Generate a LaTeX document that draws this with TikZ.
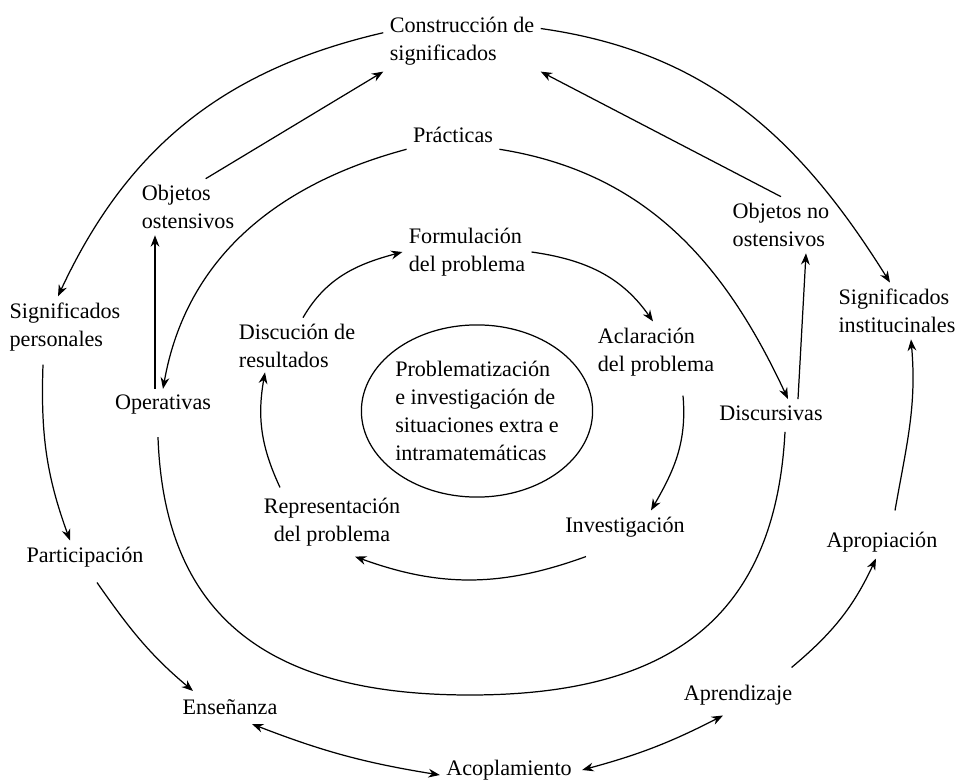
\documentclass[tikz,border=0pt]{standalone}
\usepackage{fontspec}
\setmainfont{Liberation Serif}
\usetikzlibrary{calc, positioning, shapes.geometric, arrows.meta}

\begin{document}
\begin{tikzpicture}[>={Stealth[length=6.5pt,width=5pt]}, x=0.02cm, y=0.02cm, line width=0.7pt, font=\fontsize{12.6}{16}\selectfont]
\useasboundingbox (0,0) rectangle (958,782);
\node[align=left](cons) at (462,741){Construcción de\\significados};
\node(prac) at (453,647){Prácticas};
\node[align=left](objos) at (188,575){Objetos\\ostensivos};
\node[align=left](objnos) at (781,557){Objetos no\\ostensivos};
\node[align=left](form) at (467,530){Formulación\\del problema};
\node[align=left](sigp) at (65,455){Significados\\personales};
\node[align=left](disc) at (297,436){Discución de\\resultados};
\node[align=left](acla) at (656,430){Aclaración\\del problema};
\node[align=left](sigi) at (897,471){Significados\\institucinales};
\node(ope) at (163,377){Operativas};
\node(discu) at (771,369){Discursivas};
\node[draw, ellipse, inner sep=0pt, minimum width=126pt, minimum height=98pt, align=left](prob) at (477,371){Problematización\\e investigación de\\situaciones extra e\\intramatemáticas};
\node[align=center](repr) at (332,260){Representación\\del problema};
\node(inv) at (625,255){Investigación};
\node(part) at (85,225){Participación};
\node(apro) at (882,240){Apropiación};
\node(ense) at (230,75){Enseñanza};
\node(apre) at (738,87){Aprendizaje};
\node(acop) at (509,12){Acoplamiento};

\draw[->](cons.174) to[out=193, in=65] ($(sigp.north)+(-7,0)$);
\draw[->](cons.9) to[out=-8, in=122] ($(sigi.north)+(-7,0)$);
\draw[->](objos.58)--(cons.south west);
\draw[->](objnos.north)--(cons.south east);
\draw[->](prac.south west) to[out=195, in=80] (ope.north);
\draw[->](prac.south east) to[out=-9, in=115] ($(discu.north)+(17,0)$);
\coordinate (opetop) at ($(ope.north)+(-8,0)$);
\draw[->](opetop)--(opetop |- objos.south);
\draw[->]($(discu.north)+(27,0)$)--($(objnos.south)+(25,0)$);
\coordinate (ringbot) at (470,87);
\draw($(ope.south)+(-5,-16)$) to[out=-88, in=180, looseness=1.2] (ringbot) to[out=0, in=-93, looseness=1.2] ($(discu.south)+(14,-5)$);

\draw[->]($(sigp.south)+(-22,-7)$) to[out=-92, in=110] ($(part.north)+(-15,0)$);
\draw[->]($(part.south)+(12,-9)$) to[out=-55, in=140] ($(ense.north)+(-37,2)$);
\draw[<->]($(ense.south)+(22,-3)$) to[bend right=6] ($(acop.west)+(0,-5)$);
\draw[<->]($(acop.east)+(4,0)$) to[bend right=6] ($(apre.south)+(-15,-4)$);
\draw[->]($(apre.north east)+(-7,11)$) to[out=40, in=-115] ($(apro.south)+(-6,0)$);
\draw[->]($(apro.north)+(13,15)$) to[out=80, in=-85] ($(sigi.south)+(14,0)$);

\draw[->]($(disc.north)+(6,0)$) to[out=60, in=195] (form.west);
\draw[->](form.east) to[out=-8, in=125] ($(acla.north)+(-3,0)$);
\draw[->]($(acla.south)+(27,-13)$) to[out=-85, in=60] ($(inv.north)+(26,0)$);
\draw[->]($(inv.south)+(-39,-13)$) to[out=200, in=-20] ($(repr.south)+(23,-4)$);
\draw[->]($(repr.north)+(-52,4)$) to[out=115, in=-100] ($(disc.south)+(-32,2)$);
\end{tikzpicture}
\end{document}
